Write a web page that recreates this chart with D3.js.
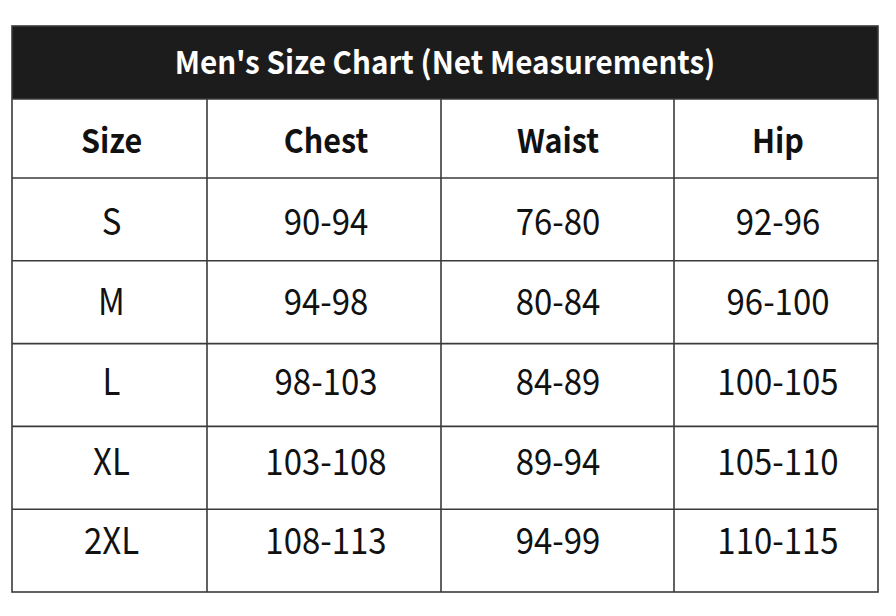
<!DOCTYPE html>
<html>
<head>
<meta charset="utf-8">
<script src="https://cdn.jsdelivr.net/npm/d3@7"></script>
<style>
  body { margin: 0; background: #fff; }
  svg { display: block; }
</style>
</head>
<body>
<svg width="896" height="616"></svg>
<script>
const title = "Men's Size Chart (Net Measurements)";
const headers = ['Size', 'Chest', 'Waist', 'Hip'];
const sizes = ['S', 'M', 'L', 'XL', '2XL'];
const chest = ['90-94', '94-98', '98-103', '103-108', '108-113'];
const waist = ['76-80', '80-84', '84-89', '89-94', '94-99'];
const hip = ['92-96', '96-100', '100-105', '105-110', '110-115'];

const svg = d3.select('svg');
const font = '"Noto Sans CJK JP", "Noto Sans", sans-serif';

// table layout
const tLeft = 12, tRight = 878;
const tTop = 26, titleBottom = 99, headBottom = 178, tBottom = 592;
const colEdges = [tLeft, 207, 441, 674, tRight];
const colShift = [2, 2, 0.5, 2];
const lineColor = '#3a3a3a';

// row bands (grid) and text centres (text sits a bit high in lower rows)
const y = d3.scaleBand()
    .domain(sizes)
    .range([headBottom, tBottom]);
const yText = d3.scalePoint()
    .domain(sizes)
    .range([222, 541]);

const columns = [sizes, chest, waist, hip];
const colMid = i => (colEdges[i] + colEdges[i + 1]) / 2 + colShift[i];

// title bar
svg.append('rect')
    .attr('x', tLeft)
    .attr('y', tTop)
    .attr('width', tRight - tLeft)
    .attr('height', titleBottom - tTop)
    .attr('fill', '#1c1c1c');

svg.append('text')
    .attr('transform', `translate(${(tLeft + tRight) / 2},${(tTop + titleBottom) / 2 + 0.5}) scale(1,1.06)`)
    .attr('dy', '0.36em')
    .attr('text-anchor', 'middle')
    .attr('font-family', font)
    .attr('font-weight', 700)
    .attr('font-size', 29.6)
    .attr('fill', '#fff')
    .text(title);

// grid lines
const grid = svg.append('g')
    .attr('stroke', lineColor)
    .attr('stroke-width', 1.6)
    .attr('fill', 'none');

grid.append('rect')
    .attr('x', tLeft)
    .attr('y', tTop)
    .attr('width', tRight - tLeft)
    .attr('height', tBottom - tTop);

const hLines = [titleBottom, headBottom].concat(sizes.slice(1).map(s => y(s)));
grid.selectAll('line.h')
    .data(hLines)
    .join('line')
    .attr('class', 'h')
    .attr('x1', tLeft)
    .attr('x2', tRight)
    .attr('y1', d => d)
    .attr('y2', d => d);

grid.selectAll('line.v')
    .data(colEdges.slice(1, -1))
    .join('line')
    .attr('class', 'v')
    .attr('x1', d => d)
    .attr('x2', d => d)
    .attr('y1', titleBottom)
    .attr('y2', tBottom);

// header row
svg.append('g')
    .selectAll('text')
    .data(headers)
    .join('text')
    .attr('transform', (d, i) => `translate(${colMid(i)},141.5) scale(1,1.08)`)
    .attr('dy', '0.36em')
    .attr('text-anchor', 'middle')
    .attr('font-family', font)
    .attr('font-weight', 700)
    .attr('font-size', 30.5)
    .attr('fill', '#111')
    .text(d => d);

// body cells
const body = svg.append('g');
columns.forEach((col, i) => {
  body.selectAll(null)
      .data(col)
      .join('text')
      .attr('transform', (d, j) => `translate(${colMid(i)},${yText(sizes[j])}) scale(1,1.12)`)
      .attr('dy', '0.36em')
      .attr('text-anchor', 'middle')
      .attr('font-family', font)
      .attr('font-size', 33)
      .attr('fill', '#111')
      .text(d => d);
});
</script>
</body>
</html>
